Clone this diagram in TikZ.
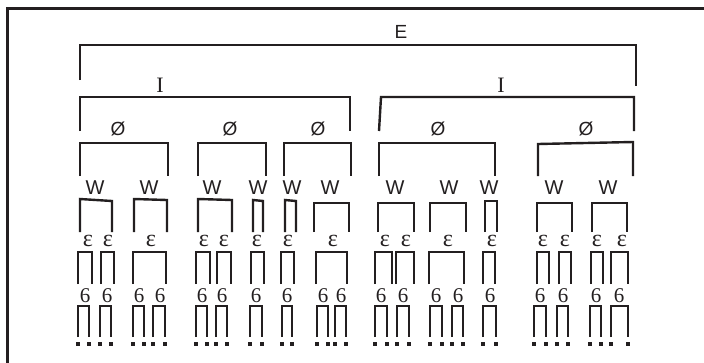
\documentclass[tikz,border=0pt]{standalone}
\usepackage{fontspec}
\setmainfont{Liberation Serif}
\newfontfamily\sansf{Liberation Sans}
\definecolor{ink}{RGB}{35,31,32}
% bracket: left x, right x, top y at left, top y at right, bottom y
\newcommand\brkt[5]{\draw[brline] (#1,#5) -- (#1,#3) -- (#2,#4) -- (#2,#5);}
\begin{document}
\begin{tikzpicture}[x=1pt,y=-1pt,
  brline/.style={line width=2.4pt,draw=ink,line join=miter},
  lab/.style={inner sep=0pt,text=ink},
  lsans/.style={lab,font=\sansf\fontsize{19}{19}\selectfont},
  lserif/.style={lab,font=\fontsize{21}{21}\selectfont},
  leps/.style={lab,font=\fontsize{24}{24}\selectfont},
  dotmark/.style={fill=ink,minimum size=3.2pt,inner sep=0pt,draw=none,rectangle}]
\useasboundingbox (0,0) rectangle (704,362);
\begin{scope}
\clip (0,0) rectangle (704,362);
% open frame
\draw[brline] (7.5,370) -- (7.5,8.5) -- (712,8.5);
\end{scope}

% level E
\node[lsans] (e) at (401,32) {E};
\draw[brline] (80,80) -- (80,45) -- (636,45) -- (636,86);

% level I
\node[lserif,font=\fontsize{22}{22}\selectfont] (i1) at (160,85) {I};
\node[lserif,font=\fontsize{22}{22}\selectfont] (i2) at (501,85) {I};
\brkt{80}{350}{97}{97}{131}
\draw[brline] (379,131) -- (381,97) -- (634,97) -- (634,131);

% level Ø
\foreach \x [count=\k] in {118,230,318,438,586}
  \node[lsans] (p\k) at (\x,129) {Ø};
\brkt{80}{168}{143}{143}{176}
\brkt{198}{266}{143}{143}{176}
\brkt{284}{351}{143}{143}{176}
\brkt{379}{495}{143}{143}{176}
\brkt{538}{633}{144}{142}{176}

% level W
\foreach \x [count=\k] in {95,149,212,258,292,330,395,449,489,554,608}
  \node[lsans,font=\sansf\fontsize{20}{20}\selectfont] (w\k) at (\x,188) {W};
\brkt{80}{112}{199}{201}{232}
\brkt{134}{167}{199}{200}{232}
\brkt{198}{232}{199}{200}{232}
\brkt{253}{263}{200}{201}{232}
\brkt{285}{296}{200}{201}{232}
\brkt{314}{349}{203}{203}{232}
\brkt{378}{414}{203}{203}{232}
\brkt{430}{466}{203}{203}{232}
\brkt{485}{497}{201}{201}{232}
\brkt{537}{572}{203}{203}{232}
\brkt{592}{627}{203}{203}{232}

% level ε
\foreach \x [count=\k] in {88,108,151,204,224,257,288,333,385,406,448,492,543,565,597,622}
  \node[leps] (f\k) at (\x,241) {ε};
\foreach \a/\b in {78/92,101/114,133/166,196/210,217/231,251/264,281/294,316/347,
                   375/392,396/414,429/464,483/495,537/549,559/571,591/603,611/628}{
  \brkt{\a}{\b}{252}{252}{284}
}

% level 6
\foreach \x [count=\k] in {85,107,139,160,202,222,256,287,323,341,381,403,436,458,490,540,563,596,619}
  \node[lserif] (s\k) at (\x,296) {6};
\foreach \a/\b [count=\k] in {78/89,100/111,133/144,153/165,196/207,216/227,250/262,282/292,
                   317/328,335/346,375/387,397/409,430/442,452/463,483/496,534/546,
                   557/568,590/601,611/628}{
  \brkt{\a}{\b}{306}{306}{337}
  \node[dotmark] (dl\k) at (\a,344) {};
  \node[dotmark] (dr\k) at (\b,344) {};
}
\end{tikzpicture}
\end{document}
